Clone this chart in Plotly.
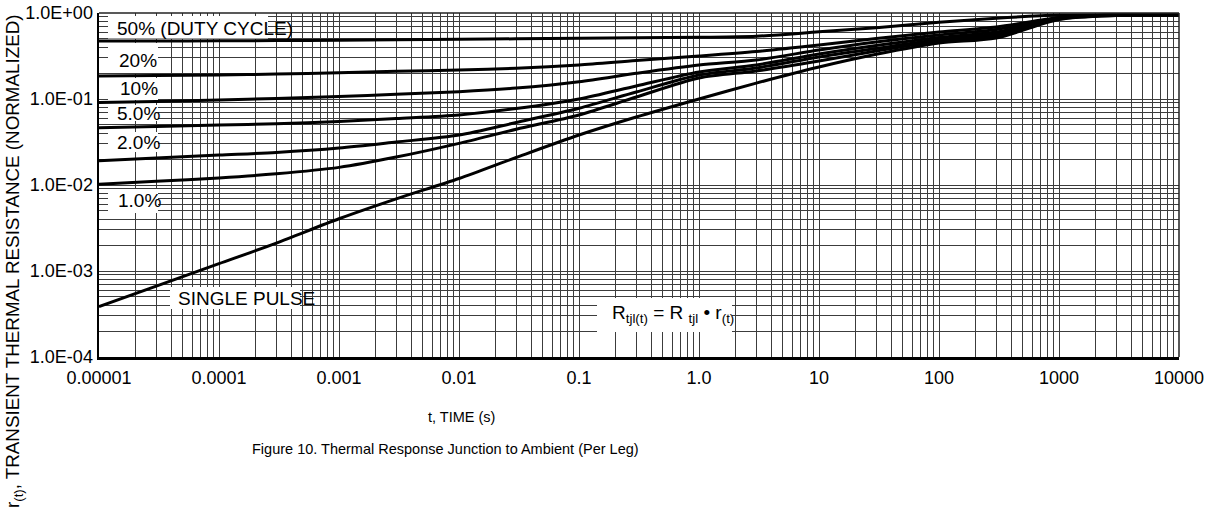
import plotly.graph_objects as go

# ---------------- data ----------------
t_s = [1e-5, 3e-5, 1e-4, 3e-4, 1e-3, 3e-3, 1e-2, 3e-2, 1e-1, 3e-1,
       1.0, 3.0, 10.0, 30.0, 100.0, 300.0, 1000.0, 3000.0, 1e4]

r_50 = [0.4725, 0.4725, 0.475, 0.478, 0.483, 0.488, 0.4945, 0.501, 0.508, 0.515,
        0.522, 0.536, 0.604, 0.675, 0.78, 0.87, 0.945, 0.955, 0.96]
r_20 = [0.185, 0.187, 0.190, 0.195, 0.2017, 0.210, 0.2174, 0.2275, 0.2485, 0.2803,
        0.316, 0.3566, 0.4246, 0.505, 0.601, 0.687, 0.886, 0.948, 0.95]
r_10 = [0.091, 0.0935, 0.0973, 0.1013, 0.107, 0.1134, 0.1216, 0.134, 0.159, 0.199,
        0.2485, 0.284, 0.371, 0.46, 0.555, 0.643, 0.875, 0.948, 0.95]
r_5 = [0.0464, 0.0479, 0.0498, 0.0515, 0.0547, 0.0593, 0.0652, 0.0775, 0.100, 0.1416,
       0.206, 0.2485, 0.3336, 0.4189, 0.519, 0.601, 0.863, 0.948, 0.95]
r_2 = [0.01917, 0.0206, 0.0223, 0.0239, 0.0269, 0.0316, 0.0381, 0.0533, 0.078, 0.1206,
       0.190, 0.2293, 0.3078, 0.3866, 0.4917, 0.570, 0.863, 0.948, 0.95]
r_1 = [0.01019, 0.01102, 0.01208, 0.01349, 0.01603, 0.02113, 0.0305, 0.0445, 0.0652, 0.1054,
       0.1754, 0.2117, 0.2765, 0.3614, 0.4725, 0.540, 0.852, 0.935, 0.948]
r_single = [3.85e-4, 6.67e-4, 1.216e-3, 2.11e-3, 4.05e-3, 6.9e-3, 0.01189, 0.0209, 0.0381, 0.0617,
            0.100, 0.153, 0.2355, 0.331, 0.448, 0.513, 0.84, 0.935, 0.948]

series_names = ["50% (DUTY CYCLE)", "20%", "10%", "5.0%", "2.0%", "1.0%", "SINGLE PULSE"]
series_vals = [r_50, r_20, r_10, r_5, r_2, r_1, r_single]

x_decades = [1e-5, 1e-4, 1e-3, 1e-2, 1e-1, 1.0, 10.0, 100.0, 1000.0, 1e4]
x_ticklabels = ["0.00001", "0.0001", "0.001", "0.01", "0.1", "1.0", "10", "100", "1000", "10000"]
y_decades = [1e-4, 1e-3, 1e-2, 1e-1, 1.0]
y_ticklabels = ["1.0E-04", "1.0E-03", "1.0E-02", "1.0E-01", "1.0E+00"]

# ---------------- layout helpers ----------------
W, H = 1211, 518
PL, PR, PT, PB = 99, 1179, 13, 357   # plot area in pixels


def px(xp):
    return (xp - PL) / (PR - PL)


def py(yp):
    return (PB - yp) / (PB - PT)


def log_grid(decades):
    vals = []
    for i, d in enumerate(decades):
        vals.append(d)
        if i < len(decades) - 1:
            for m in range(2, 10):
                vals.append(d * m)
    return vals


xv = log_grid(x_decades)
xt = [x_ticklabels[x_decades.index(v)] if v in x_decades else "" for v in xv]
yv = log_grid(y_decades)
yt = [y_ticklabels[y_decades.index(v)] if v in y_decades else "" for v in yv]

FONT = "Liberation Sans, Arial, sans-serif"

fig = go.Figure()
for name, vals in zip(series_names, series_vals):
    fig.add_trace(go.Scatter(x=t_s, y=vals, mode="lines", name=name,
                             line=dict(color="black", width=3, shape="spline", smoothing=0.8),
                             hoverinfo="skip"))

grid_col = "#3c3c3c"
fig.update_layout(
    width=W, height=H,
    margin=dict(l=PL, r=W - PR, t=PT, b=H - PB),
    paper_bgcolor="white", plot_bgcolor="white",
    showlegend=False,
    xaxis=dict(type="log", range=[-5, 4], tickmode="array", tickvals=xv, ticktext=xt,
               showgrid=True, gridcolor=grid_col, gridwidth=1, zeroline=False,
               showline=True, linecolor="black", linewidth=2.5, automargin=False,
               ticks="outside", ticklen=3, tickcolor="rgba(0,0,0,0)",
               tickfont=dict(family=FONT, size=18, color="black")),
    yaxis=dict(type="log", range=[-4, 0], tickmode="array", tickvals=yv, ticktext=yt,
               showgrid=True, gridcolor=grid_col, gridwidth=1, zeroline=False,
               showline=True, linecolor="black", linewidth=2.5, automargin=False,
               ticks="", ticklen=0,
               tickfont=dict(family=FONT, size=18, color="black")),
)

# white label boxes (cover the grid behind the labels)
boxes = [
    (108, 16, 268, 38.5),
    (108, 43, 158, 73),
    (108, 78, 158, 100),
    (108, 105, 158, 121),
    (108, 132, 158, 152),
    (108, 189, 158, 213),
    (170, 287, 300, 309),
    (597, 298, 732, 332),
]
for x0, y0, x1, y1 in boxes:
    fig.add_shape(type="rect", xref="paper", yref="paper",
                  x0=px(x0), x1=px(x1), y0=py(y1), y1=py(y0),
                  fillcolor="white", line=dict(width=0), layer="above")

# plot frame top/right
fig.add_shape(type="line", xref="paper", yref="paper", x0=0, x1=1, y0=1, y1=1,
              line=dict(color="#222", width=1.5))
fig.add_shape(type="line", xref="paper", yref="paper", x0=1, x1=1, y0=0, y1=1,
              line=dict(color="#222", width=1.5))

# curve labels
labels = [
    ("50% (DUTY CYCLE)", 115, 29),
    ("20%", 117, 60),
    ("10%", 118, 89),
    ("5.0%", 115, 114),
    ("2.0%", 115, 142),
    ("1.0%", 116, 200),
    ("SINGLE PULSE", 176, 298),
]
for txt, xl, yc in labels:
    fig.add_annotation(text=txt, xref="paper", yref="paper", x=px(xl), y=py(yc),
                       xanchor="left", yanchor="middle", showarrow=False,
                       font=dict(family=FONT, size=19, color="black"))

fig.add_annotation(text="R<sub>tjl(t)</sub> = R <sub>tjl</sub> \u2022 r<sub>(t)</sub>",
                   xref="paper", yref="paper", x=px(610), y=py(314),
                   xanchor="left", yanchor="middle", showarrow=False,
                   font=dict(family=FONT, size=19, color="black"))

# axis titles & caption
fig.add_annotation(text="r<sub>(t)</sub>, TRANSIENT THERMAL RESISTANCE (NORMALIZED)",
                   xref="paper", yref="paper", x=px(14), y=py(261), textangle=-90,
                   xanchor="center", yanchor="middle", showarrow=False,
                   font=dict(family=FONT, size=18.8, color="black"))
fig.add_annotation(text="t, TIME (s)", xref="paper", yref="paper", x=px(461), y=py(417),
                   xanchor="center", yanchor="middle", showarrow=False,
                   font=dict(family=FONT, size=14.5, color="black"))
fig.add_annotation(text="Figure 10. Thermal Response Junction to Ambient (Per Leg)",
                   xref="paper", yref="paper", x=px(445), y=py(449),
                   xanchor="center", yanchor="middle", showarrow=False,
                   font=dict(family=FONT, size=14.5, color="black"))

fig.write_html("out.html",
               config={"displayModeBar": False, "staticPlot": True},
               post_script="document.body.style.margin='0';"
                           "document.body.style.overflow='hidden';")
